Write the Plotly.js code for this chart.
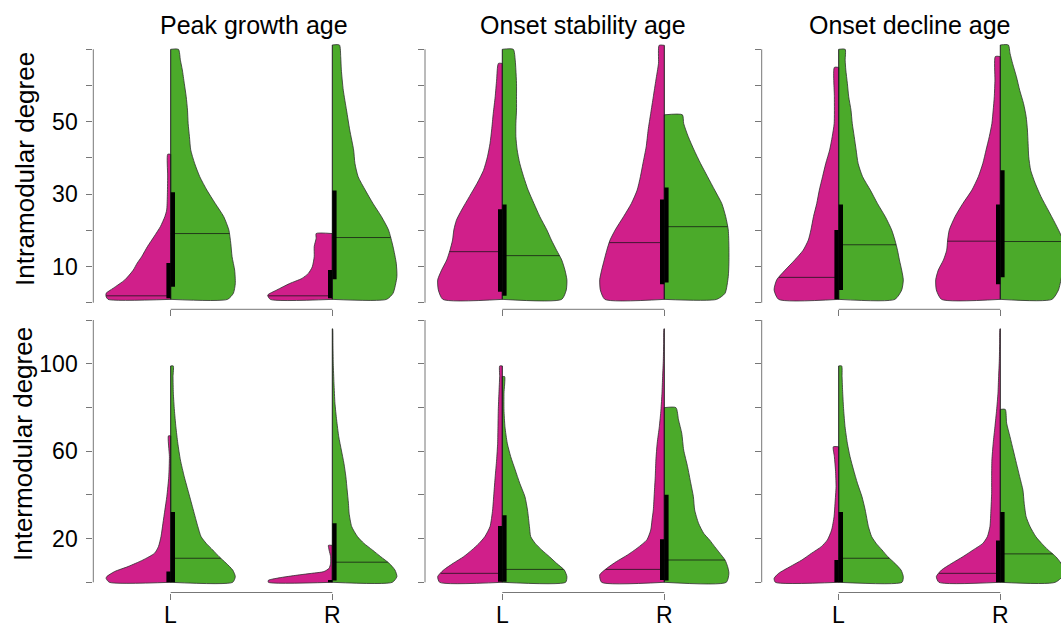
<!DOCTYPE html>
<html><head><meta charset="utf-8">
<script src="https://cdn.plot.ly/plotly-3.0.1.min.js"></script>
<style>html,body{margin:0;padding:0;background:#fff}#chart{width:1061px;height:628px}</style>
</head><body><div id="chart"></div>
<script>
// ---------------- DATA ----------------
const colTitles = ['Peak growth age', 'Onset stability age', 'Onset decline age'];
const rowTitles = ['Intramodular degree', 'Intermodular degree'];
const categories = ['L', 'R'];
const rowTickLabels = [[10, 30, 50], [20, 60, 100]];

// density profiles (y value, relative density) — magenta = left half, green = right half
// Peak growth age – Intramodular
const peak_intra_L_mag_y = [0.92,1.7,2.6,4.0,6.3,9.0,10.9,12.7,15.5,18.2,21.0,23.8,25.6,29.3,35,41.0];
const peak_intra_L_mag_d = [0.97,1.0,1.0,0.89,0.71,0.58,0.52,0.45,0.36,0.26,0.16,0.09,0.062,0.052,0.047,0.046];
const peak_intra_L_grn_y = [0.92,2.6,5.3,9.0,12.7,16.4,20.1,23.8,27.4,31.1,34.8,38.5,42.2,45.9,49.5,53.2,56.9,60.6,64.3,67.0,70.0];
const peak_intra_L_grn_d = [0.88,0.97,1.0,0.99,0.95,0.93,0.90,0.82,0.69,0.56,0.45,0.37,0.31,0.29,0.27,0.26,0.24,0.21,0.18,0.15,0.12];
const peak_intra_R_mag_y = [0.92,2.1,3.5,5.3,6.7,8.1,9.9,12.7,15.5,17.8,19.1];
const peak_intra_R_mag_d = [0.96,1.0,0.86,0.66,0.47,0.37,0.31,0.28,0.28,0.25,0.25];
const peak_intra_R_grn_y = [0.92,2.6,7.2,10.9,15.5,20.1,23.8,27.4,31.1,34.8,38.5,42.2,47.7,53.2,58.7,64.3,68.0,71.2];
const peak_intra_R_grn_d = [0.84,0.94,1.0,0.99,0.94,0.87,0.76,0.63,0.51,0.40,0.35,0.33,0.27,0.22,0.17,0.14,0.13,0.11];
const peak_intra_med_mag = [1.9, 1.9];
const peak_intra_med_grn = [19.1, 18.0];
const peak_intra_q1_mag = [1.2, 1.2], peak_intra_q3_mag = [11.0, 9.0];
const peak_intra_q1_grn = [4.4, 6.5], peak_intra_q3_grn = [30.5, 31.0];

// Onset stability age – Intramodular
const stab_intra_L_mag_y = [0.92,3.5,6.3,9.0,11.8,14.5,17.3,20.1,22.8,25.6,29.3,33.0,36.6,40.3,44.0,47.7,52.3,56.9,61.5,66.1];
const stab_intra_L_mag_d = [0.92,0.99,1.0,0.94,0.86,0.81,0.77,0.75,0.71,0.63,0.51,0.39,0.29,0.23,0.19,0.165,0.14,0.11,0.088,0.06];
const stab_intra_L_grn_y = [0.92,3.5,6.3,9.0,11.8,14.5,17.3,20.1,23.8,27.4,31.1,34.8,38.5,42.2,45.9,49.5,53.2,56.9,60.6,64.3,67.0,70.0];
const stab_intra_L_grn_d = [0.92,0.99,1.0,0.97,0.92,0.84,0.76,0.69,0.58,0.49,0.40,0.33,0.27,0.23,0.21,0.21,0.22,0.22,0.22,0.21,0.20,0.17];
const stab_intra_R_mag_y = [0.92,3.5,6.3,9.0,11.8,14.5,17.3,20.1,23.8,27.4,31.1,34.8,38.5,43.1,47.7,52.3,56.9,61.5,66.1,71.1];
const stab_intra_R_mag_d = [0.92,0.99,1.0,0.97,0.93,0.89,0.84,0.76,0.63,0.51,0.42,0.37,0.33,0.28,0.25,0.21,0.17,0.13,0.09,0.08];
const stab_intra_R_grn_y = [0.92,2.6,7.2,10.9,15.5,20.1,23.8,27.4,31.1,34.8,38.5,42.2,45.9,49.5,51.9];
const stab_intra_R_grn_d = [0.81,0.94,0.99,1.0,1.0,0.99,0.95,0.89,0.78,0.67,0.56,0.46,0.37,0.30,0.28];
const stab_intra_med_mag = [14.1, 16.6];
const stab_intra_med_grn = [13.0, 21.0];
const stab_intra_q1_mag = [3.0, 5.1], stab_intra_q3_mag = [25.8, 28.5];
const stab_intra_q1_grn = [1.9, 5.6], stab_intra_q3_grn = [27.1, 31.8];

// Onset decline age – Intramodular
const decl_intra_L_mag_y = [0.92,3.5,6.3,9.0,11.8,14.5,17.3,20.1,23.8,27.4,31.1,34.8,38.5,42.2,45.9,49.5,56.9,65.0];
const decl_intra_L_mag_d = [0.93,1.0,0.96,0.83,0.68,0.55,0.47,0.43,0.39,0.34,0.30,0.25,0.20,0.14,0.10,0.07,0.067,0.067];
const decl_intra_L_grn_y = [0.92,3.5,6.3,9.0,11.8,14.5,17.3,20.1,23.8,27.4,31.1,34.8,38.5,42.2,45.9,49.5,53.2,56.9,60.6,64.3,67.0,70.0];
const decl_intra_L_grn_d = [0.87,0.975,1.0,0.975,0.94,0.91,0.87,0.82,0.72,0.60,0.49,0.37,0.30,0.27,0.24,0.21,0.19,0.155,0.134,0.11,0.10,0.10];
const decl_intra_R_mag_y = [0.92,3.5,6.3,9.0,11.8,14.5,17.3,20.1,23.8,27.4,31.1,34.8,38.5,42.2,45.9,49.5,53.2,56.9,61.5,68.0];
const decl_intra_R_mag_d = [0.91,0.99,1.0,0.96,0.88,0.83,0.815,0.79,0.70,0.58,0.44,0.34,0.27,0.22,0.17,0.13,0.11,0.093,0.083,0.077];
const decl_intra_R_grn_y = [0.92,3.5,7.2,10.9,14.5,18.2,21.9,25.6,29.3,33.0,36.6,40.3,44.0,47.7,51.4,55.0,58.7,62.4,66.1,68.9,71.2];
const decl_intra_R_grn_d = [0.80,0.90,0.95,1.0,1.0,0.95,0.85,0.74,0.63,0.54,0.47,0.44,0.43,0.42,0.40,0.36,0.30,0.25,0.19,0.15,0.125];
const decl_intra_med_mag = [7.0, 17.0];
const decl_intra_med_grn = [16.0, 16.9];
const decl_intra_q1_mag = [0.92, 5.1], decl_intra_q3_mag = [20.1, 27.1];
const decl_intra_q1_grn = [3.5, 7.0], decl_intra_q3_grn = [27.1, 36.6];

// Peak growth age – Intermodular
const peak_inter_L_mag_y = [0,1.8,2.6,4.9,7.2,10.2,13.3,16.3,20.9,27.0,33.1,39.2,48.3,57.5,67.0];
const peak_inter_L_mag_d = [0.95,1.0,0.99,0.87,0.66,0.43,0.25,0.19,0.15,0.12,0.09,0.06,0.03,0.02,0.035];
const peak_inter_L_grn_y = [0,2.6,5.6,8.7,11.7,14.8,17.8,20.9,25.5,33.1,40.7,48.3,56.0,63.6,71.2,78.8,86.5,94.1,99.0];
const peak_inter_L_grn_d = [0.96,1.0,0.96,0.86,0.75,0.65,0.55,0.47,0.42,0.35,0.28,0.21,0.15,0.11,0.08,0.057,0.041,0.036,0.04];
const peak_inter_R_mag_y = [0,0.9,1.5,2.3,3.4,4.1,4.9,6.4,8.7,11.7,14.8,16.9];
const peak_inter_R_mag_d = [0.99,0.99,0.92,0.77,0.51,0.32,0.13,0.05,0.026,0.026,0.05,0.06];
const peak_inter_R_grn_y = [0,2.6,5.6,8.7,11.7,14.8,17.8,20.9,25.5,31.6,36.1,42.2,48.3,54.4,60.5,66.6,74.3,81.9,91.0,100,109,116];
const peak_inter_R_grn_d = [0.93,1.0,0.97,0.88,0.75,0.62,0.49,0.39,0.30,0.26,0.25,0.23,0.21,0.18,0.14,0.10,0.067,0.041,0.026,0.015,0.01,0.005];
const peak_inter_med_mag = [null, null];
const peak_inter_med_grn = [11.0, 9.2];
const peak_inter_q1_mag = [0, 0], peak_inter_q3_mag = [4.9, 1.1];
const peak_inter_q1_grn = [0, 0.8], peak_inter_q3_grn = [32.2, 27.0];

// Onset stability age – Intermodular
const stab_inter_L_mag_y = [0,2.6,5.6,8.7,11.7,14.8,17.8,20.9,25.5,33.1,40.7,48.3,56.0,63.6,71.2,78.8,86.5,94.1,99.0];
const stab_inter_L_mag_d = [0.97,1.0,0.91,0.76,0.60,0.47,0.36,0.27,0.19,0.15,0.13,0.11,0.088,0.072,0.067,0.062,0.052,0.041,0.04];
const stab_inter_L_grn_y = [0,2.6,5.6,8.7,11.7,14.8,17.8,20.9,25.5,33.1,39.2,45.3,51.4,57.5,63.6,71.2,78.8,86.5,94.1];
const stab_inter_L_grn_d = [0.98,1.0,0.96,0.84,0.73,0.61,0.51,0.44,0.42,0.39,0.35,0.27,0.20,0.13,0.077,0.041,0.026,0.026,0.036];
const stab_inter_R_mag_y = [0,3.4,6.4,9.5,12.5,15.6,19.4,23.9,28.5,33.1,40.7,48.3,56.0,63.6,71.2,78.8,86.5,94.1,101.7,109.3,116];
const stab_inter_R_mag_d = [0.97,1.0,0.89,0.74,0.57,0.42,0.27,0.21,0.19,0.17,0.155,0.14,0.13,0.11,0.077,0.052,0.036,0.026,0.015,0.01,0.005];
const stab_inter_R_grn_y = [0,4.1,7.2,10.2,13.3,16.3,19.4,22.4,27.0,33.1,39.2,45.3,52.9,60.5,68.2,74.3,79.9];
const stab_inter_R_grn_d = [0.96,1.0,0.98,0.94,0.86,0.78,0.70,0.61,0.53,0.47,0.45,0.41,0.36,0.30,0.27,0.22,0.18];
const stab_inter_med_mag = [4.1, 5.9];
const stab_inter_med_grn = [5.9, 10.2];
const stab_inter_q1_mag = [0.3, 1.1], stab_inter_q3_mag = [25.8, 19.7];
const stab_inter_q1_grn = [0.3, 0.8], stab_inter_q3_grn = [30.7, 40.0];

// Onset decline age – Intermodular
const decl_inter_L_mag_y = [0,1.8,4.1,7.2,10.2,13.3,16.3,19.4,23.9,30.0,36.1,43.8,51.4,57.5,62.0];
const decl_inter_L_mag_d = [0.98,1.0,0.93,0.75,0.57,0.42,0.27,0.175,0.11,0.072,0.057,0.041,0.05,0.067,0.083];
const decl_inter_L_grn_y = [0,2.6,5.6,8.7,11.7,14.8,17.8,20.9,25.5,33.1,39.2,45.3,51.4,57.5,63.6,71.2,78.8,86.5,94.1,99.0];
const decl_inter_L_grn_d = [0.98,1.0,0.965,0.87,0.76,0.67,0.58,0.51,0.46,0.41,0.36,0.29,0.23,0.175,0.134,0.098,0.077,0.062,0.052,0.046];
const decl_inter_R_mag_y = [0,2.6,5.6,8.7,11.7,14.8,17.8,20.9,25.5,33.1,40.7,48.3,56.0,63.6,71.2,78.8,86.5,94.1,101.7,109.3,116];
const decl_inter_R_mag_d = [0.95,0.99,0.91,0.75,0.58,0.42,0.27,0.20,0.16,0.145,0.134,0.134,0.13,0.11,0.083,0.057,0.036,0.026,0.015,0.01,0.005];
const decl_inter_R_grn_y = [0,4.1,8.7,11.7,14.8,17.8,20.9,25.5,30.0,36.1,42.2,48.3,54.4,60.5,66.6,72.8,79.1];
const decl_inter_R_grn_d = [0.85,1.0,0.94,0.86,0.74,0.64,0.55,0.46,0.40,0.37,0.35,0.30,0.25,0.20,0.15,0.098,0.077];
const decl_inter_med_mag = [null, 4.1];
const decl_inter_med_grn = [11.0, 13.0];
const decl_inter_q1_mag = [0, 0], decl_inter_q3_mag = [10.2, 19.1];
const decl_inter_q1_grn = [0, 0], decl_inter_q3_grn = [32.2, 32.2];

// ---------------- ASSEMBLY ----------------
const panels = [
  {row:0,col:0, mag:[[peak_intra_L_mag_y,peak_intra_L_mag_d],[peak_intra_R_mag_y,peak_intra_R_mag_d]],
   grn:[[peak_intra_L_grn_y,peak_intra_L_grn_d],[peak_intra_R_grn_y,peak_intra_R_grn_d]],
   medMag:peak_intra_med_mag, medGrn:peak_intra_med_grn, q1Mag:peak_intra_q1_mag, q3Mag:peak_intra_q3_mag, q1Grn:peak_intra_q1_grn, q3Grn:peak_intra_q3_grn},
  {row:0,col:1, mag:[[stab_intra_L_mag_y,stab_intra_L_mag_d],[stab_intra_R_mag_y,stab_intra_R_mag_d]],
   grn:[[stab_intra_L_grn_y,stab_intra_L_grn_d],[stab_intra_R_grn_y,stab_intra_R_grn_d]],
   medMag:stab_intra_med_mag, medGrn:stab_intra_med_grn, q1Mag:stab_intra_q1_mag, q3Mag:stab_intra_q3_mag, q1Grn:stab_intra_q1_grn, q3Grn:stab_intra_q3_grn},
  {row:0,col:2, mag:[[decl_intra_L_mag_y,decl_intra_L_mag_d],[decl_intra_R_mag_y,decl_intra_R_mag_d]],
   grn:[[decl_intra_L_grn_y,decl_intra_L_grn_d],[decl_intra_R_grn_y,decl_intra_R_grn_d]],
   medMag:decl_intra_med_mag, medGrn:decl_intra_med_grn, q1Mag:decl_intra_q1_mag, q3Mag:decl_intra_q3_mag, q1Grn:decl_intra_q1_grn, q3Grn:decl_intra_q3_grn},
  {row:1,col:0, mag:[[peak_inter_L_mag_y,peak_inter_L_mag_d],[peak_inter_R_mag_y,peak_inter_R_mag_d]],
   grn:[[peak_inter_L_grn_y,peak_inter_L_grn_d],[peak_inter_R_grn_y,peak_inter_R_grn_d]],
   medMag:peak_inter_med_mag, medGrn:peak_inter_med_grn, q1Mag:peak_inter_q1_mag, q3Mag:peak_inter_q3_mag, q1Grn:peak_inter_q1_grn, q3Grn:peak_inter_q3_grn},
  {row:1,col:1, mag:[[stab_inter_L_mag_y,stab_inter_L_mag_d],[stab_inter_R_mag_y,stab_inter_R_mag_d]],
   grn:[[stab_inter_L_grn_y,stab_inter_L_grn_d],[stab_inter_R_grn_y,stab_inter_R_grn_d]],
   medMag:stab_inter_med_mag, medGrn:stab_inter_med_grn, q1Mag:stab_inter_q1_mag, q3Mag:stab_inter_q3_mag, q1Grn:stab_inter_q1_grn, q3Grn:stab_inter_q3_grn},
  {row:1,col:2, mag:[[decl_inter_L_mag_y,decl_inter_L_mag_d],[decl_inter_R_mag_y,decl_inter_R_mag_d]],
   grn:[[decl_inter_L_grn_y,decl_inter_L_grn_d],[decl_inter_R_grn_y,decl_inter_R_grn_d]],
   medMag:decl_inter_med_mag, medGrn:decl_inter_med_grn, q1Mag:decl_inter_q1_mag, q3Mag:decl_inter_q3_mag, q1Grn:decl_inter_q1_grn, q3Grn:decl_inter_q3_grn}
];

// layout geometry (pixels)
const W = 1061, H = 628;
const axisPx = [93.3, 425, 761.7];
const Lpx = [170.7, 502.3, 838.7];
const Rpx = [332.3, 664.3, 1000.3];
const colRightPx = [413, 745, 1061];
const zeroPx = [302.7, 582.3];
const unitPx = [3.62, 2.1858];
const domBottomPx = [309.3, 592.5];
const domTopPx = [40, 316];
const yMax = [70, 120];
const yStep = [10, 20];
const halfWidthPx = 64.6, boxWidthPx = 4.3;
const catLabelYPx = 615;

const MAG = '#D01F8A', GRN = '#4BAA2A', OUT = '#2e2e2e';
const FONT = 'Liberation Sans, Arial, Helvetica, sans-serif';

function interp(ys, ds, v) {
  if (v <= ys[0]) return ds[0];
  for (let i = 1; i < ys.length; i++) {
    if (v <= ys[i]) { const t = (v - ys[i-1]) / (ys[i] - ys[i-1]); return ds[i-1] + t * (ds[i] - ds[i-1]); }
  }
  return ds[ds.length - 1];
}

const fills = [], lines = [], boxes = [];
const layout = {
  width: W, height: H, margin: {l:0, r:0, t:0, b:0},
  paper_bgcolor: '#fff', plot_bgcolor: 'rgba(0,0,0,0)', showlegend: false,
  shapes: [], annotations: [], font: {family: FONT, color: '#000'}
};

panels.forEach((p, idx) => {
  const n = idx + 1;
  const xs = n === 1 ? 'x' : 'x' + n, ys_ = n === 1 ? 'y' : 'y' + n;
  const c = p.col, r = p.row;
  const ppu = Rpx[c] - Lpx[c];
  const S = halfWidthPx / ppu, BW = boxWidthPx / ppu;
  const xr = [1 + (axisPx[c] - Lpx[c]) / ppu, 1 + (colRightPx[c] - Lpx[c]) / ppu];
  const yr = [(zeroPx[r] - domBottomPx[r]) / unitPx[r], (zeroPx[r] - domTopPx[r]) / unitPx[r]];

  const tv = []; for (let v = 0; v <= yMax[r]; v += yStep[r]) tv.push(v);
  const tt = tv.map(v => (c === 0 && rowTickLabels[r].includes(v)) ? String(v) : '');

  layout['xaxis' + (n === 1 ? '' : n)] = {
    domain: [axisPx[c] / W, colRightPx[c] / W], range: xr, anchor: ys_,
    tickvals: [1, 2], ticktext: ['', ''],
    ticks: 'outside', ticklen: 6, tickcolor: '#777', tickwidth: 1,
    showgrid: false, zeroline: false, showline: false, fixedrange: true
  };
  layout['yaxis' + (n === 1 ? '' : n)] = {
    domain: [1 - domBottomPx[r] / H, 1 - domTopPx[r] / H], range: yr, anchor: xs,
    tickvals: tv, ticktext: tt, ticks: 'outside', ticklen: 6, tickcolor: '#777', tickwidth: 1,
    ticklabelstandoff: 4,
    showgrid: false, zeroline: false, showline: false, fixedrange: true,
    tickfont: {size: 23, family: FONT, color: '#000'}
  };
  // y axis line (0 .. max) and x bracket (L .. R)
  layout.shapes.push({type:'line', xref: xs + ' domain', yref: ys_, x0:0, x1:0, y0:0, y1:yMax[r], line:{color:'#777', width:1}});
  layout.shapes.push({type:'line', xref: xs, yref: ys_ + ' domain', x0:1, x1:2, y0:0, y1:0, line:{color:'#777', width:1}});
  if (r === 1) {
    categories.forEach((cat, ci) => layout.annotations.push({text: cat, xref: xs, yref: 'paper', x: ci + 1, y: 1 - catLabelYPx / H,
      xanchor: 'center', yanchor: 'middle', showarrow: false, font: {size: 23, family: FONT, color: '#000'}}));
  }

  [0, 1].forEach(ci => {
    const cx = ci + 1;
    [['mag', -1, MAG, p.medMag, p.q1Mag, p.q3Mag], ['grn', 1, GRN, p.medGrn, p.q1Grn, p.q3Grn]].forEach(([key, sgn, col, med, q1, q3]) => {
      const [yy, dd] = p[key][ci];
      const px = [cx].concat(dd.map(d => cx + sgn * d * S)).concat([cx]);
      const py = [yy[0]].concat(yy).concat([yy[yy.length - 1]]);
      fills.push({type:'scatter', mode:'lines', x: px, y: py, xaxis: xs, yaxis: ys_,
        fill:'toself', fillcolor: col, line:{color: OUT, width: 0.8, shape:'spline', smoothing: 0.6}, hoverinfo:'skip'});
      lines.push({type:'scatter', mode:'lines', x:[cx, cx], y:[yy[0], yy[yy.length-1]], xaxis: xs, yaxis: ys_,
        line:{color:'#222', width:1}, hoverinfo:'skip'});
      if (med[ci] !== null) {
        const dm = interp(yy, dd, med[ci]);
        lines.push({type:'scatter', mode:'lines', x:[cx, cx + sgn * dm * S], y:[med[ci], med[ci]], xaxis: xs, yaxis: ys_,
          line:{color:'rgba(20,20,20,0.75)', width:1}, hoverinfo:'skip'});
      }
      boxes.push({type:'scatter', mode:'lines', x:[cx, cx + sgn*BW, cx + sgn*BW, cx, cx], y:[q1[ci], q1[ci], q3[ci], q3[ci], q1[ci]],
        xaxis: xs, yaxis: ys_, fill:'toself', fillcolor:'#000', line:{width:0, color:'#000'}, hoverinfo:'skip'});
    });
  });
});

// column titles
const titleXPx = [254, 583, 910];
colTitles.forEach((t, i) => layout.annotations.push({text: t, xref:'paper', yref:'paper', x: titleXPx[i] / W, y: 1 - 25 / H,
  xanchor:'center', yanchor:'middle', showarrow:false, font:{size:25, family: FONT, color:'#000'}}));
// row titles
const rowTitleXPx = [25, 23], rowTitleYPx = [169, 444];
rowTitles.forEach((t, i) => layout.annotations.push({text: t, xref:'paper', yref:'paper', x: rowTitleXPx[i] / W, y: 1 - rowTitleYPx[i] / H,
  xanchor:'center', yanchor:'middle', textangle: -90, showarrow:false, font:{size:26, family: FONT, color:'#000'}}));

Plotly.newPlot('chart', fills.concat(lines).concat(boxes), layout, {staticPlot:true, displayModeBar:false});
</script>
</body></html>
